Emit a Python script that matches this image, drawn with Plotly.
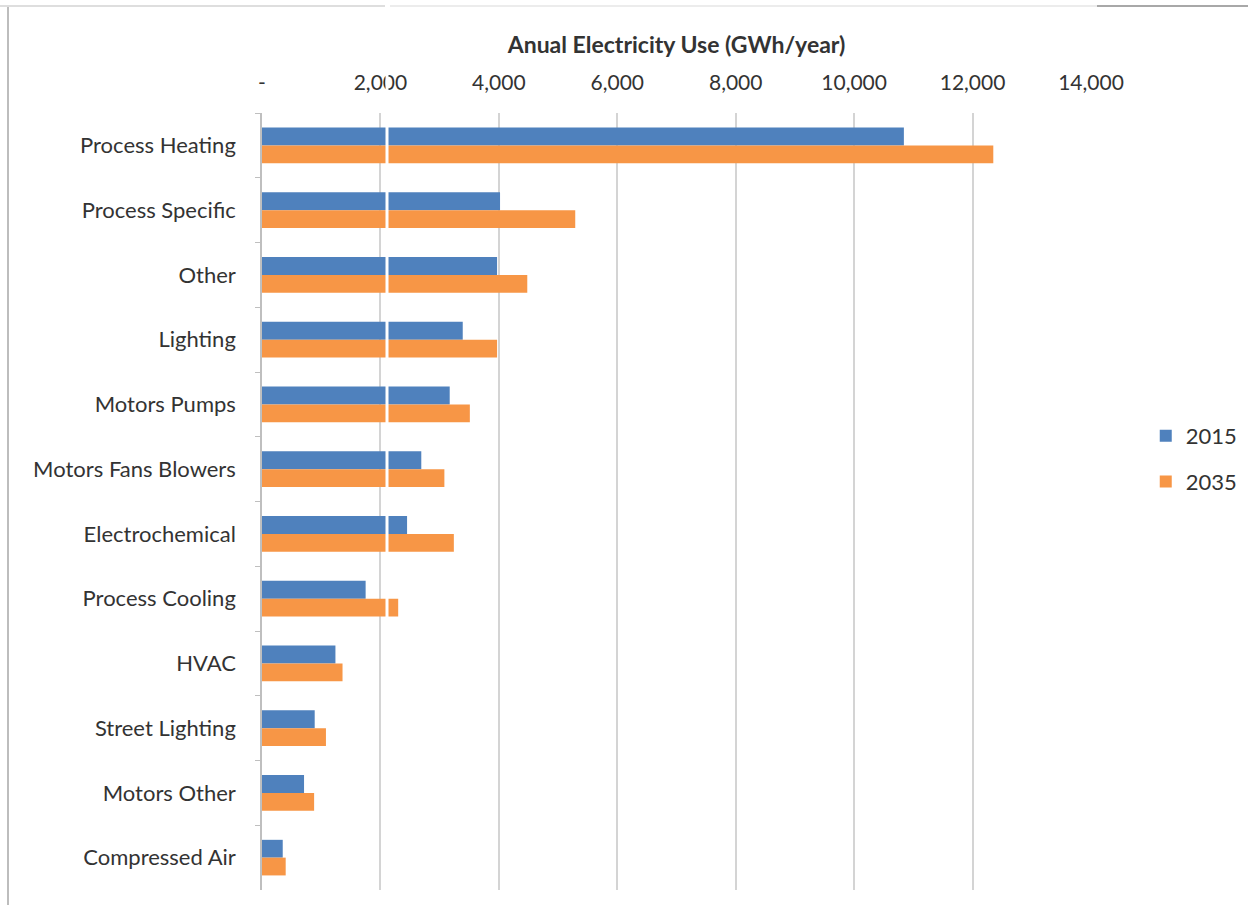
import plotly.graph_objects as go

categories = ["Process Heating", "Process Specific", "Other", "Lighting", "Motors Pumps",
              "Motors Fans Blowers", "Electrochemical", "Process Cooling", "HVAC",
              "Street Lighting", "Motors Other", "Compressed Air"]
values_2015 = [10840, 4020, 3970, 3390, 3170, 2690, 2450, 1750, 1240, 890, 710, 350]
values_2035 = [12350, 5290, 4480, 3970, 3510, 3080, 3240, 2300, 1360, 1080, 880, 400]
tick_vals = [0, 2000, 4000, 6000, 8000, 10000, 12000, 14000]
tick_text = ["-", "2,000", "4,000", "6,000", "8,000", "10,000", "12,000", "14,000"]

FONT = "Lato, 'Open Sans', sans-serif"
TXT = "#333333"

L, R, T, B = 262, 157, 113, 15
PW, PH = 1248 - L - R, 905 - T - B


def px(x):
    return (x - L) / PW


def py(y):
    return (905 - B - y) / PH


fig = go.Figure()
fig.add_trace(go.Bar(y=categories, x=values_2015, name="2015", orientation="h", legendgroup="a",
                     marker=dict(color="#4F81BD", line=dict(width=0))))
fig.add_trace(go.Bar(y=categories, x=values_2035, name="2035", orientation="h", legendgroup="b",
                     marker=dict(color="#F79646", line=dict(width=0))))

fig.update_layout(
    width=1248, height=905,
    paper_bgcolor="white", plot_bgcolor="white",
    margin=dict(l=L, r=R, t=T, b=B, autoexpand=False),
    barmode="group", bargap=0.45, bargroupgap=0,
    font=dict(family=FONT, size=22, color=TXT),
    title=dict(text="<b>Anual Electricity Use (GWh/year)</b>", x=(L + 1248 - R) / 2 / 1248,
               xanchor="center", y=1 - 45 / 905, yanchor="middle",
               font=dict(family=FONT, size=23, color=TXT)),
    legend=dict(x=px(1165) - 0.057 + 28 / PW, y=py(459), xanchor="left", yanchor="middle",
                font=dict(family=FONT, size=22, color=TXT),
                tracegroupgap=14, itemwidth=30),
    xaxis=dict(side="top", range=[0, 14000], tickmode="array", tickvals=tick_vals,
               ticktext=tick_text, showgrid=True, gridcolor="#d4d4d4", gridwidth=1.5,
               zeroline=False, showline=False, ticks="", ticklabelstandoff=18,
               tickfont=dict(family=FONT, size=21, color=TXT)),
    yaxis=dict(autorange="reversed", showline=True, linecolor="#bfbfbf", linewidth=1.5,
               ticks="outside", tickson="boundaries", ticklen=5, tickcolor="#bfbfbf",
               ticklabelstandoff=20, showgrid=False,
               tickfont=dict(family=FONT, size=22, color=TXT)),
    shapes=[
        dict(type="line", xref="paper", yref="paper", x0=px(387), x1=px(387),
             y0=py(905), y1=py(0), line=dict(color="white", width=3), layer="above"),
        dict(type="line", xref="paper", yref="paper", x0=px(8), x1=px(8),
             y0=py(905), y1=py(6), line=dict(color="#bdbdbd", width=2), layer="above"),
        dict(type="line", xref="paper", yref="paper", x0=px(0), x1=px(385),
             y0=py(6), y1=py(6), line=dict(color="#dedede", width=2), layer="above"),
        dict(type="line", xref="paper", yref="paper", x0=px(390), x1=px(1097),
             y0=py(6), y1=py(6), line=dict(color="#ececec", width=2), layer="above"),
        dict(type="line", xref="paper", yref="paper", x0=px(1097), x1=px(1248),
             y0=py(6), y1=py(6), line=dict(color="#a8a8a8", width=2), layer="above"),
    ],
)

fig.write_html("out.html", config={"displayModeBar": False},
               post_script="document.body.style.margin='0';")
